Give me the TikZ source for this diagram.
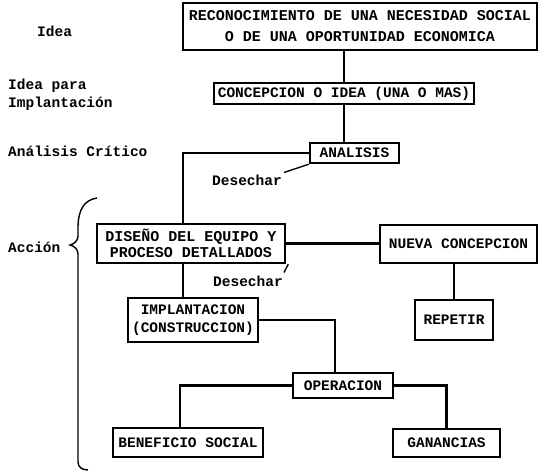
\documentclass[tikz,border=0pt]{standalone}
\usepackage{fontspec}
\newfontfamily\tw{Liberation Mono}
\tikzset{
  box/.style={draw, line width=2.5pt, inner sep=0pt, align=center, font=\tw\bfseries\fontsize{14.5}{20}\selectfont},
  lbl/.style={inner sep=0pt, align=left, font=\tw\bfseries\fontsize{14.5}{18}\selectfont},
  conn/.style={line width=2.8pt},
  thin/.style={line width=1.4pt},
}
\begin{document}
\begin{tikzpicture}[x=1pt,y=-1pt]
\useasboundingbox (0,0) rectangle (540,473);
% boxes
\node[box, minimum width=354pt, minimum height=47pt, font=\tw\bfseries\fontsize{15}{21}\selectfont] (top) at (360,26.5) {RECONOCIMIENTO DE UNA NECESIDAD SOCIAL\\O DE UNA OPORTUNIDAD ECONOMICA};
\node[box, minimum width=260pt, minimum height=21pt] (conc) at (344,93.5) {CONCEPCION O IDEA (UNA O MAS)};
\node[box, minimum width=89pt, minimum height=20pt] (anal) at (354.5,153) {ANALISIS};
\node[box, minimum width=188pt, minimum height=39pt, font=\tw\bfseries\fontsize{15}{16}\selectfont] (dis) at (191,243.5) {DISEÑO DEL EQUIPO Y\\PROCESO DETALLADOS};
\node[box, minimum width=157pt, minimum height=38pt] (nueva) at (458.5,244) {NUEVA CONCEPCION};
\node[box, minimum width=78pt, minimum height=40pt] (rep) at (454,320) {REPETIR};
\node[box, minimum width=130pt, minimum height=44pt, font=\tw\bfseries\fontsize{14.5}{18}\selectfont] (impl) at (193,320) {IMPLANTACION\\(CONSTRUCCION)};
\node[box, minimum width=100pt, minimum height=25pt] (oper) at (343,385.5) {OPERACION};
\node[box, minimum width=150pt, minimum height=29pt] (bene) at (188,442.5) {BENEFICIO SOCIAL};
\node[box, minimum width=107pt, minimum height=28pt] (gan) at (446.5,443) {GANANCIAS};
% left labels
\node[lbl, anchor=west] (l1) at (37,31) {Idea};
\node[lbl, anchor=west] (l2) at (8,95) {Idea para\\Implantación};
\node[lbl, anchor=west] (l3) at (8,151) {Análisis Crítico};
\node[lbl, anchor=west] (l4) at (8,247) {Acción};
% desechar labels
\node[lbl, anchor=east] (d1) at (282,180) {Desechar};
\node[lbl, anchor=east] (d2) at (283,281) {Desechar};
% connectors
\draw[conn] (conc.north |- top.south) -- (conc.north);
\draw[conn] (conc.south) -- (conc.south |- anal.north);
\draw[conn] (anal.west) -| ([xshift=-8pt]dis.north);
\draw[conn] (dis.east) -- (dis.east -| nueva.west);
\draw[conn] (rep.north |- nueva.south) -- (rep.north);
\draw[conn] ([xshift=-8pt]dis.south) -- ([xshift=-8pt]dis.south |- impl.north);
\draw[conn] (impl.east) -| ([xshift=-8pt]oper.north);
\draw[conn] (oper.west) -| ([xshift=-8pt]bene.north);
\draw[conn] (oper.east) -| (gan.north);
% desechar slashes
\draw[thin] ([xshift=2pt,yshift=2pt]d1.north east) -- (anal.south west);
\draw[thin] ([xshift=1pt,yshift=3pt]d2.north east) -- ([xshift=2pt]dis.south east);
% brace
\draw[thin] (97,198) .. controls (84,200) and (78,210) .. (78,228) -- (78,236)
  .. controls (78,241) and (74,244) .. (70,245)
  .. controls (74,246) and (78,249) .. (78,254) -- (78,462)
  .. controls (78,467) and (82,470) .. (88,470);
\end{tikzpicture}
\end{document}
